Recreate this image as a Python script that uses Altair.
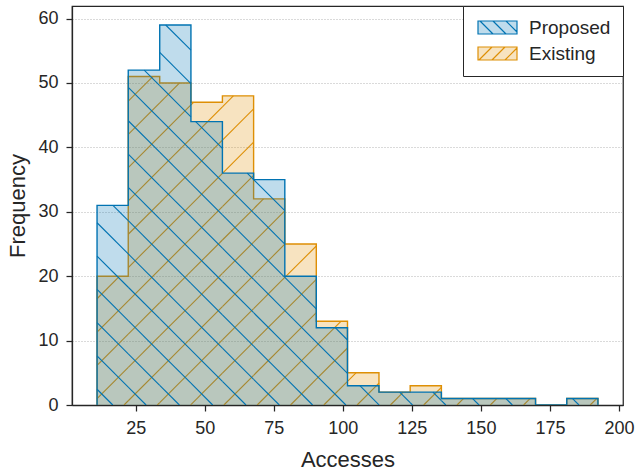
import math
import altair as alt
import pandas as pd

# ---------------- data ----------------
series_names = ["Proposed", "Existing"]
bin_edges = [11.0, 22.3, 33.7, 45.0, 56.4, 67.7, 79.0, 90.4, 101.7,
             113.1, 124.4, 135.7, 147.1, 158.4, 169.8, 181.1, 192.4]
proposed_counts = [31, 52, 59, 44, 36, 35, 20, 12, 3, 2, 2, 1, 1, 1, 0, 1]
existing_counts = [20, 51, 50, 47, 48, 32, 25, 13, 5, 2, 3, 1, 1, 1, 0, 1]
x_ticks = [25, 50, 75, 100, 125, 150, 175, 200]
y_ticks = [0, 10, 20, 30, 40, 50, 60]

# ---------------- style ----------------
FONT = "Liberation Sans"
DARK = "#262626"
BLUE = "#0173b2"
ORANGE = "#de8f05"
FILL_BLUE = "rgba(1,115,178,0.25)"
FILL_ORANGE = "rgba(222,143,5,0.25)"

W, H = 551, 399
x_dom = [1.93, 201.47]
y_dom = [0, 61.95]
sx = W / (x_dom[1] - x_dom[0])
sy = H / (y_dom[1] - y_dom[0])
SPACING = 33.3

counts_by = {"Proposed": proposed_counts, "Existing": existing_counts}
hatch_dir = {"Proposed": "back", "Existing": "fwd"}
hatch_phase = {"Proposed": 7.5, "Existing": 18.7}

# step area / outline tables
area_rows, line_rows, hatch_rows = [], [], []
for name in series_names:
    cts = counts_by[name]
    for i, c in enumerate(cts):
        area_rows.append({"series": name, "edge": bin_edges[i], "count": c})
    area_rows.append({"series": name, "edge": bin_edges[-1], "count": cts[-1]})

    idx = 0
    line_rows.append({"series": name, "edge": bin_edges[0], "count": 0, "idx": idx}); idx += 1
    for i, c in enumerate(cts):
        line_rows.append({"series": name, "edge": bin_edges[i], "count": c, "idx": idx}); idx += 1
    line_rows.append({"series": name, "edge": bin_edges[-1], "count": cts[-1], "idx": idx}); idx += 1
    line_rows.append({"series": name, "edge": bin_edges[-1], "count": 0, "idx": idx})

    # hatch segments clipped to each bin rectangle (computed in pixel space)
    ph = hatch_phase[name]
    for i, c in enumerate(cts):
        if c <= 0:
            continue
        X0 = (bin_edges[i] - x_dom[0]) * sx
        X1 = (bin_edges[i + 1] - x_dom[0]) * sx
        Hh = c * sy
        if hatch_dir[name] == "back":  # X + Y = C
            kmin = math.floor((X0 - ph) / SPACING) - 1
            kmax = math.ceil((X1 + Hh - ph) / SPACING) + 1
            for k in range(kmin, kmax + 1):
                C = ph + k * SPACING
                xa = max(X0, C - Hh)
                xb = min(X1, C)
                if xb - xa > 0.05:
                    hatch_rows.append({"series": name,
                                       "xa": x_dom[0] + xa / sx, "ya": (C - xa) / sy,
                                       "xb": x_dom[0] + xb / sx, "yb": (C - xb) / sy})
        else:  # X - Y = C
            kmin = math.floor((X0 - Hh - ph) / SPACING) - 1
            kmax = math.ceil((X1 - ph) / SPACING) + 1
            for k in range(kmin, kmax + 1):
                C = ph + k * SPACING
                xa = max(X0, C)
                xb = min(X1, C + Hh)
                if xb - xa > 0.05:
                    hatch_rows.append({"series": name,
                                       "xa": x_dom[0] + xa / sx, "ya": (xa - C) / sy,
                                       "xb": x_dom[0] + xb / sx, "yb": (xb - C) / sy})

area_df = pd.DataFrame(area_rows)
line_df = pd.DataFrame(line_rows)
hatch_df = pd.DataFrame(hatch_rows)

# ---------------- legend symbol paths ----------------
def fmt(v):
    return f"{v:.3f}"

rect = "M-1,-1L5,-1L5,1L-1,1Z"
blue_path = rect
for t in [-0.69, 1.31, 3.31]:
    x2, y2 = t + 2, 1
    if x2 > 5:
        x2, y2 = 5, -1 + (5 - t)
    blue_path += f"M{fmt(t)},-1L{fmt(x2)},{fmt(y2)}"
orange_path = rect
for b in [-0.85, 1.15, 3.15]:
    x2, y2 = b + 2, -1
    if x2 > 5:
        x2, y2 = 5, 1 - (5 - b)
    orange_path += f"M{fmt(b)},1L{fmt(x2)},{fmt(y2)}"

legend = alt.Legend(
    title=None, orient="top-right", offset=0, padding=12,
    labelFont=FONT, labelFontSize=19, labelColor=DARK, labelOffset=35,
    symbolSize=169, symbolStrokeWidth=1.2, rowPadding=6, symbolOpacity=1,
    strokeColor=DARK, fillColor="white", cornerRadius=0,
    symbolType={"expr": f"datum.value == 'Proposed' ? '{blue_path}' : '{orange_path}'"},
)

fill_scale = alt.Scale(domain=series_names, range=[FILL_BLUE, FILL_ORANGE])
stroke_scale = alt.Scale(domain=series_names, range=[BLUE, ORANGE])
x_scale = alt.Scale(domain=x_dom, nice=False, zero=False)
y_scale = alt.Scale(domain=y_dom, nice=False)


def x_axis():
    return alt.Axis(values=x_ticks, title="Accesses", grid=False, zindex=1,
                    labelPadding=8, titlePadding=12)


def y_axis():
    return alt.Axis(values=y_ticks, title="Frequency", grid=True,
                    labelPadding=8, titlePadding=8)


layers = []
for name in ["Existing", "Proposed"]:
    area = alt.Chart(area_df).mark_area(interpolate="step-after").encode(
        x=alt.X("edge:Q", scale=x_scale, axis=x_axis()),
        y=alt.Y("count:Q", scale=y_scale, axis=y_axis()),
        fill=alt.Fill("series:N", scale=fill_scale, legend=legend),
    ).transform_filter(alt.datum.series == name)
    hatch = alt.Chart(hatch_df).mark_rule(strokeWidth=1.1).encode(
        x=alt.X("xa:Q", scale=x_scale, axis=x_axis()),
        x2="xb:Q",
        y=alt.Y("ya:Q", scale=y_scale, axis=y_axis()),
        y2="yb:Q",
        stroke=alt.Stroke("series:N", scale=stroke_scale, legend=legend),
    ).transform_filter(alt.datum.series == name)
    line = alt.Chart(line_df).mark_line(interpolate="step-after", strokeWidth=1.4).encode(
        x=alt.X("edge:Q", scale=x_scale, axis=x_axis()),
        y=alt.Y("count:Q", scale=y_scale, axis=y_axis()),
        stroke=alt.Stroke("series:N", scale=stroke_scale, legend=legend),
        order=alt.Order("idx:Q"),
    ).transform_filter(alt.datum.series == name)
    layers += [area, hatch, line]

chart = alt.layer(*layers).properties(
    width=W, height=H,
    padding={"left": 72, "top": 6, "right": 12, "bottom": 67},
    autosize=alt.AutoSizeParams(type="none"),
).configure(font=FONT).configure_view(
    stroke=DARK, strokeWidth=1.25
).configure_axis(
    labelFont=FONT, labelFontSize=18, labelColor=DARK,
    titleFont=FONT, titleFontSize=22, titleFontWeight="normal", titleColor=DARK,
    domainColor=DARK, domainWidth=1.25, tickColor=DARK, tickWidth=1.25, tickSize=6,
    gridColor="#b5b5b5", gridDash=[1, 2], gridWidth=1,
)

chart.save("out.html", embed_options={"renderer": "svg", "actions": False})
